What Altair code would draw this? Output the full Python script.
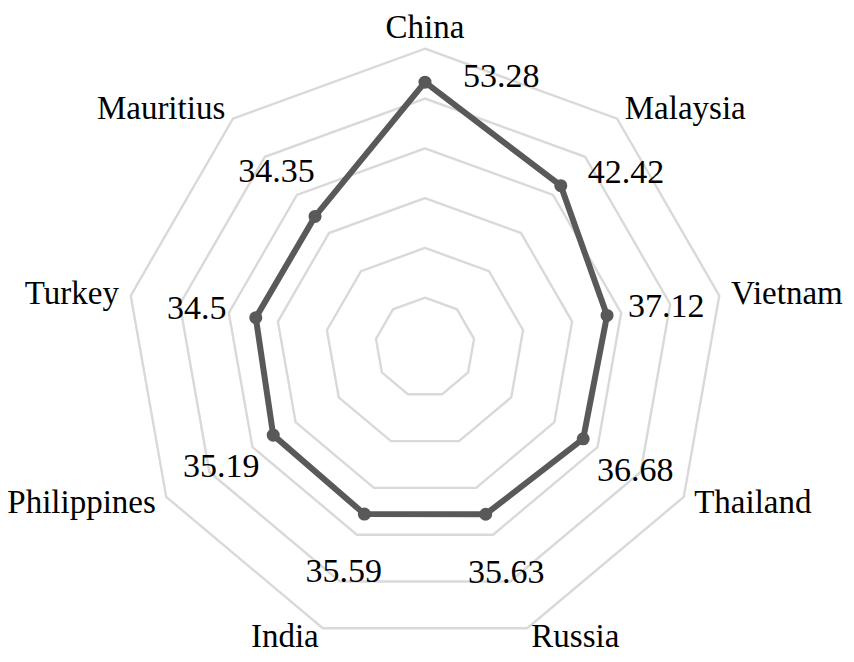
import altair as alt
import pandas as pd

categories = ["China", "Malaysia", "Vietnam", "Thailand", "Russia",
              "India", "Philippines", "Turkey", "Mauritius"]
values = [53.28, 42.42, 37.12, 36.68, 35.63, 35.59, 35.19, 34.5, 34.35]
ring_levels = [10, 20, 30, 40, 50, 60]
right_side = ["Malaysia", "Vietnam", "Thailand"]
left_side = ["Philippines", "Turkey", "Mauritius"]
bottom_right = ["Russia"]
bottom_left = ["India"]
top_side = ["China"]
radial_value_labels = ["Vietnam", "Thailand", "Russia", "India",
                       "Philippines", "Turkey", "Mauritius"]

N = len(categories)
series = pd.DataFrame({"cat": categories, "value": values, "idx": list(range(N))})
rings = pd.DataFrame([(lv, k) for lv in ring_levels for k in range(N)],
                     columns=["level", "idx"])

PX = 4.98            # pixels per unit
W, H = 838, 646
CX, CY = 417, 339.5  # centre inside plot area
xdom = [-CX / PX, (W - CX) / PX]
ydom = [-(H - CY) / PX, CY / PX]

X = alt.X("px:Q", scale=alt.Scale(domain=xdom, nice=False, zero=False), axis=None)
Y = alt.Y("py:Q", scale=alt.Scale(domain=ydom, nice=False, zero=False), axis=None)
ANG = f"datum.idx*2*PI/{N}"
RMAX = max(ring_levels)
FONT = "Liberation Serif"

grid = alt.Chart(rings).transform_calculate(
    a=ANG, px="datum.level*sin(datum.a)", py="datum.level*cos(datum.a)"
).mark_line(interpolate="linear-closed", color="#d9d9d9", strokeWidth=2.4).encode(
    x=X, y=Y, detail="level:N", order="idx:Q")

base = alt.Chart(series).transform_calculate(
    a=ANG, px="datum.value*sin(datum.a)", py="datum.value*cos(datum.a)")

line = base.mark_line(interpolate="linear-closed", color="#595959", strokeWidth=6).encode(
    x=X, y=Y, order="idx:Q")
pts = base.mark_circle(size=170, color="#595959", opacity=1).encode(x=X, y=Y)

lab_r = f"({RMAX}+12/{PX})"
labbase = alt.Chart(series).transform_calculate(
    a=ANG, px=f"{lab_r}*sin(datum.a)", py=f"{lab_r}*cos(datum.a)")
ctxt = dict(font=FONT, fontSize=33, color="black", baseline="middle")


def cat_layer(names, align, dy=0):
    return labbase.transform_filter(
        alt.FieldOneOfPredicate(field="cat", oneOf=names)
    ).mark_text(align=align, dy=dy, **ctxt).encode(x=X, y=Y, text="cat:N")


lab_right = cat_layer(right_side, "left")
lab_left = cat_layer(left_side, "right")
lab_br = cat_layer(bottom_right, "left", dy=-3)
lab_bl = cat_layer(bottom_left, "right", dy=-3)
lab_top = cat_layer(top_side, "center", dy=-9)

vtxt = dict(font=FONT, fontSize=34, color="black", baseline="middle")
vr = f"(datum.value+60/{PX})"
vbase = alt.Chart(series).transform_calculate(
    a=ANG, px=f"{vr}*sin(datum.a)", py=f"{vr}*cos(datum.a)")
val_radial = vbase.transform_filter(
    alt.FieldOneOfPredicate(field="cat", oneOf=radial_value_labels)
).mark_text(align="center", dy=2, **vtxt).encode(x=X, y=Y, text="value:Q")

val_china = base.transform_filter(alt.datum.cat == "China").mark_text(
    align="left", dx=38, dy=-5, **vtxt).encode(x=X, y=Y, text="value:Q")
val_malaysia = base.transform_filter(alt.datum.cat == "Malaysia").mark_text(
    align="left", dx=27, dy=-13, **vtxt).encode(x=X, y=Y, text="value:Q")

chart = alt.layer(
    grid, line, pts, lab_right, lab_left, lab_br, lab_bl, lab_top,
    val_radial, val_china, val_malaysia
).properties(
    width=W, height=H, autosize="none", padding=0, background="white"
).configure_view(stroke=None)

chart.save("out.html", embed_options={"renderer": "svg", "actions": False})
